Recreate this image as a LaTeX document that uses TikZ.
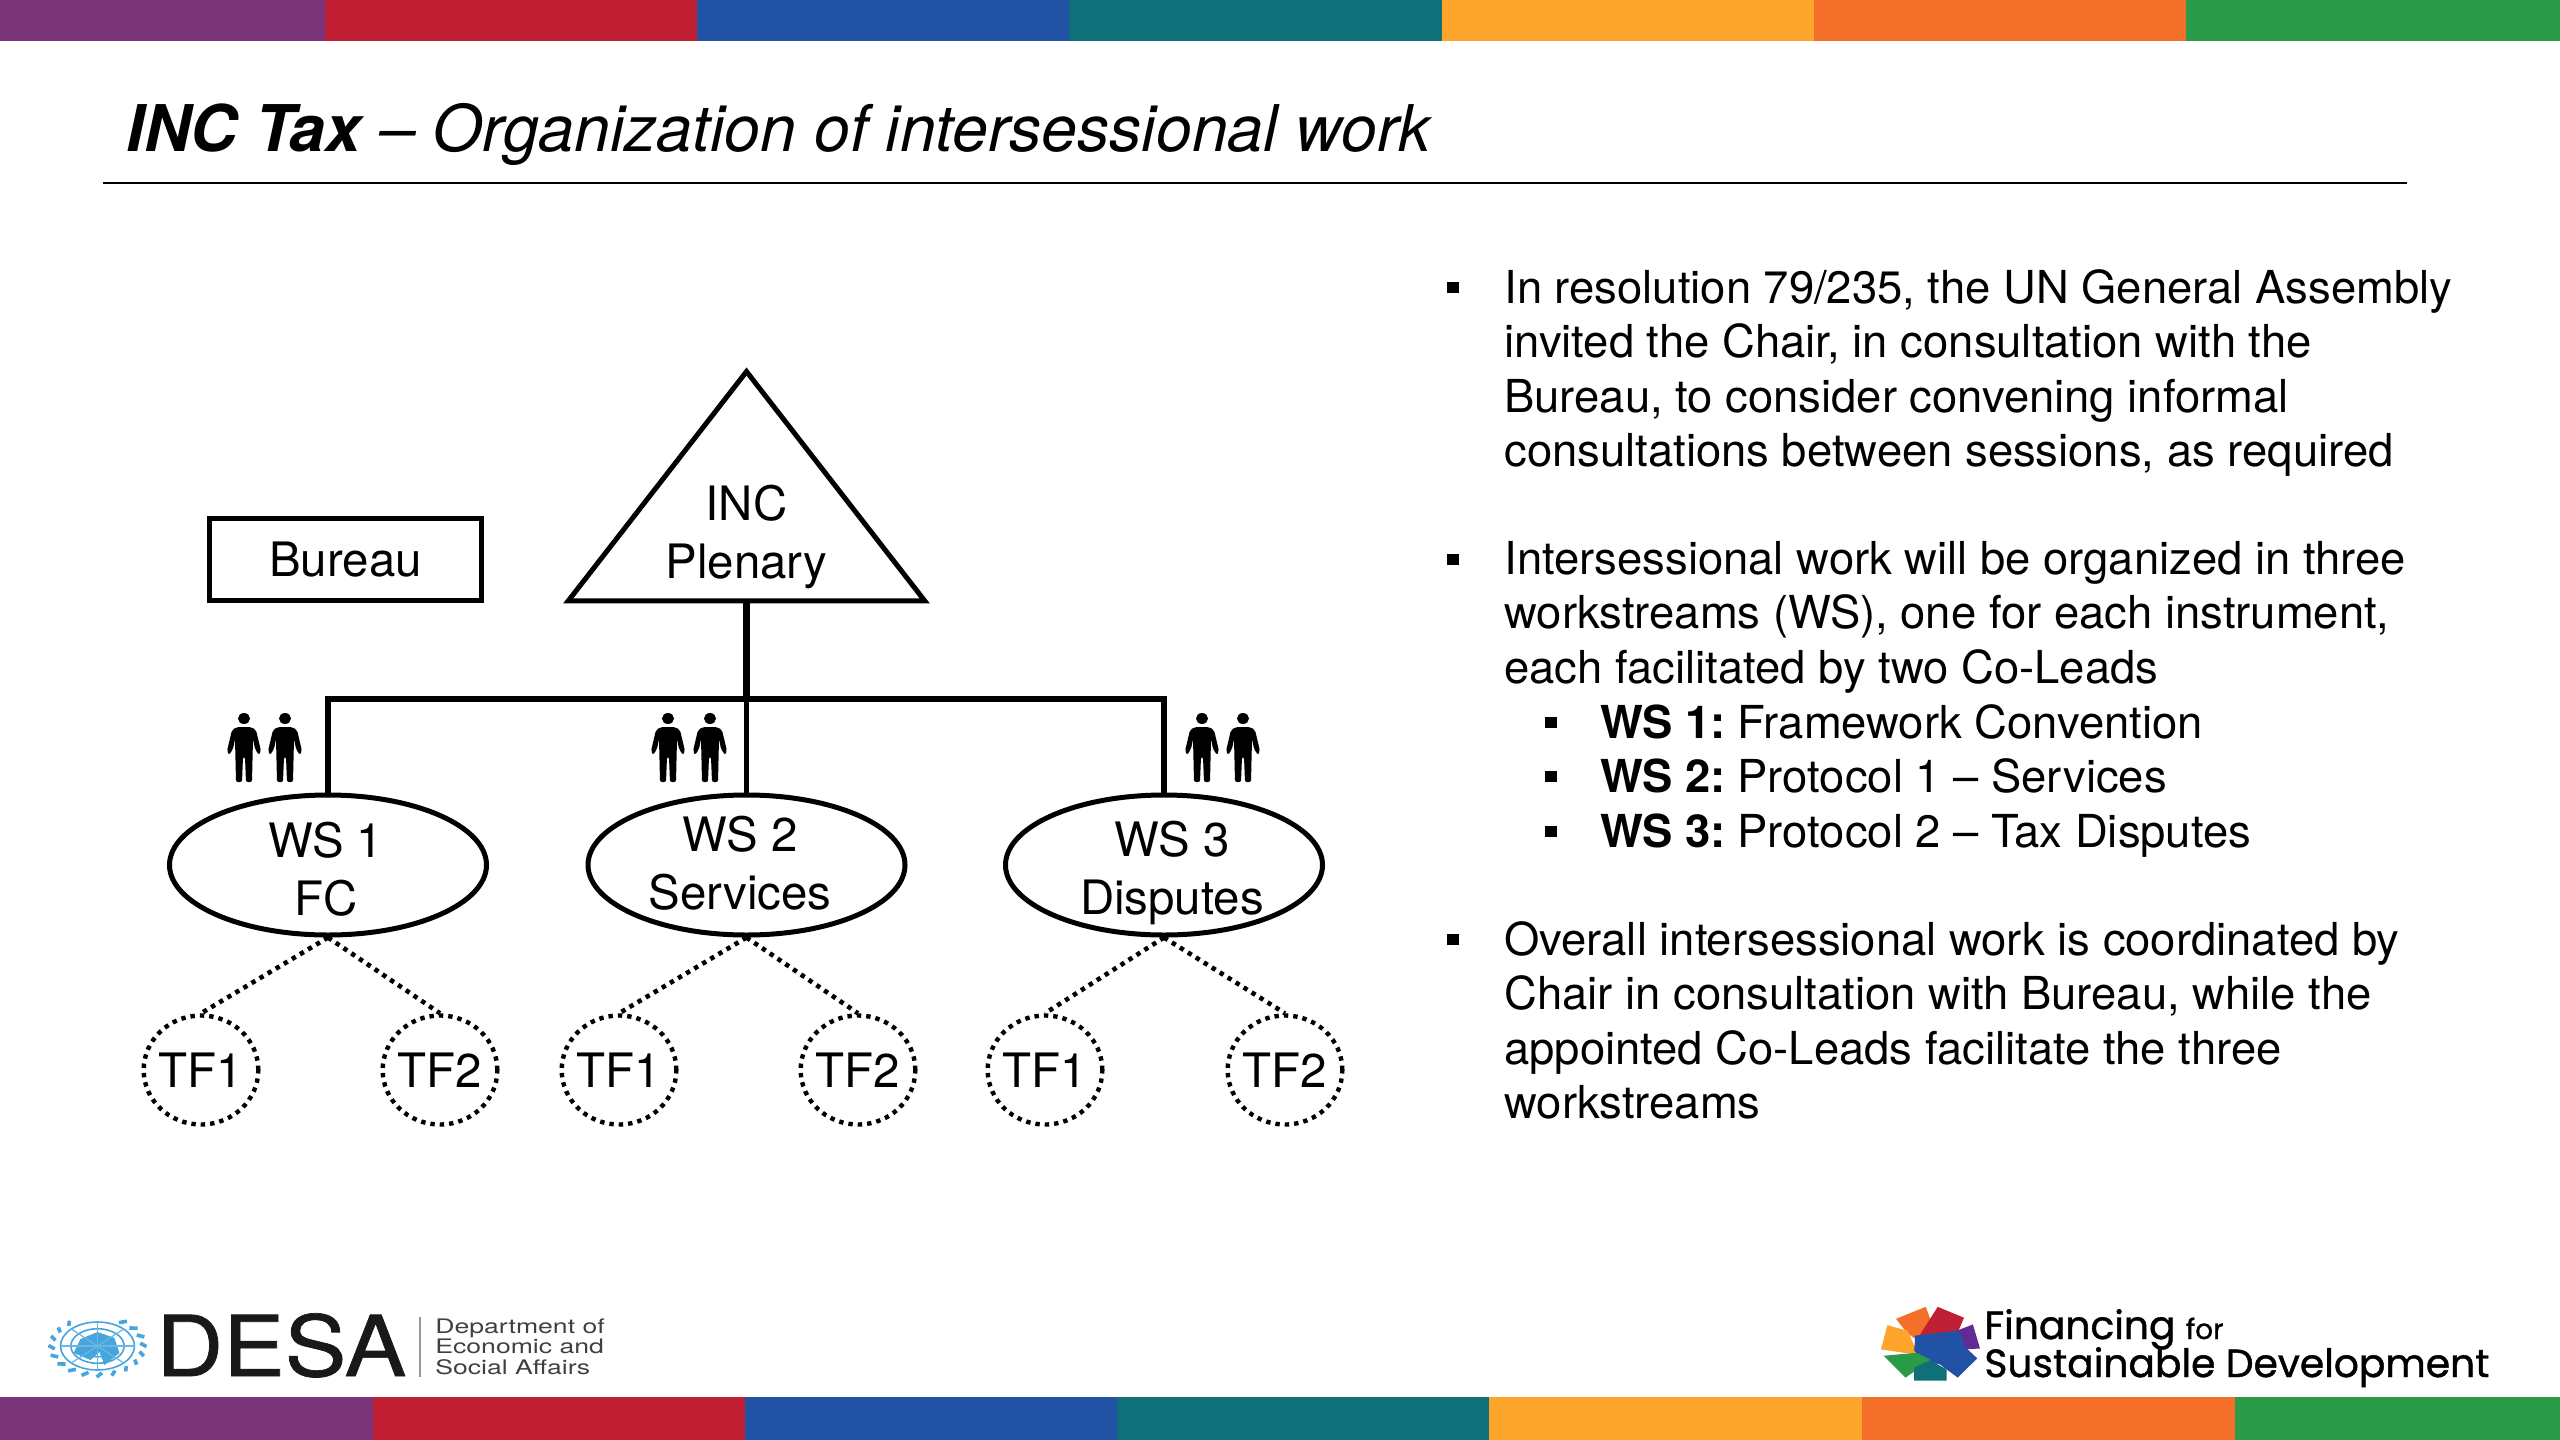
\documentclass[tikz,border=0pt]{standalone}
\usepackage{fontspec}
\setmainfont{TeX Gyre Heros}
\newfontface\logofont[FakeBold=1.1]{Poppins}
\newfontface\desafont[FakeBold=0.8]{TeX Gyre Heros}
\usetikzlibrary{shapes.geometric,calc}
\definecolor{barpurple}{HTML}{7B3578}
\definecolor{barred}{HTML}{C11F33}
\definecolor{barblue}{HTML}{2152A5}
\definecolor{barteal}{HTML}{10707A}
\definecolor{baryellow}{HTML}{FCA42B}
\definecolor{barorange}{HTML}{F4702A}
\definecolor{bargreen}{HTML}{2B9B4A}
\definecolor{unblue}{HTML}{45A5DC}

\begin{document}
\begin{tikzpicture}[
  x=0.5pt, y=-0.5pt,
  diagramfont/.style={font=\fontsize{23.7pt}{29pt}\selectfont},
  bodyfont/.style={font=\fontsize{22.7pt}{27.2pt}\selectfont},
  orgbox/.style={draw=black, line width=2.5pt, inner sep=0pt, align=center, diagramfont},
  plenarybox/.style={orgbox, isosceles triangle, isosceles triangle stretches,
                     shape border rotate=90, minimum height=114.7pt, minimum width=178.3pt},
  bureaubox/.style={orgbox, rectangle, minimum width=136pt, minimum height=41pt},
  wsoval/.style={orgbox, ellipse, minimum width=158.5pt, minimum height=70pt},
  wstext/.style={inner sep=0pt, align=center, diagramfont},
  tfoval/.style={draw=black, line width=2.2pt, dash pattern=on 2.2pt off 2.5pt, ellipse,
                 inner ysep=0pt, inner xsep=-0.8pt, minimum width=55pt, minimum height=54.5pt, diagramfont},
  busline/.style={line width=2.6pt, draw=black},
  trunkline/.style={line width=3.4pt, draw=black},
  tfline/.style={line width=2.3pt, draw=black, dash pattern=on 2.2pt off 2.5pt},
  para/.style={anchor=north west, inner sep=0pt, align=left, bodyfont},
  subpara/.style={anchor=base west, inner sep=0pt, bodyfont},
  bulletmark/.style={fill=black, inner sep=0pt, minimum width=6pt, minimum height=5.5pt},
  person/.pic={
    \fill (0,5.5) ellipse (6 and 5.5);
    \fill[rounded corners=1pt] (-7,14) -- (7,14) -- (12,17) -- (17,38) -- (15,42) -- (11,36)
      -- (9,26) -- (8,69) -- (2,69) -- (1,44) -- (-1,44) -- (-2,69) -- (-8,69) -- (-9,26)
      -- (-11,36) -- (-15,42) -- (-17,38) -- (-12,17) -- cycle;
  }
]
\useasboundingbox (0,0) rectangle (2560,1440);

% ===== colour bars =====
\foreach \xa/\xb/\barcol in {0/325/barpurple,325/697/barred,697/1069/barblue,1069/1442/barteal,
    1442/1814/baryellow,1814/2186/barorange,2186/2560/bargreen}
  \fill[\barcol] (\xa,0) rectangle (\xb,41);
\foreach \xa/\xb/\barcol in {0/373/barpurple,373/745/barred,745/1117/barblue,1117/1489/barteal,
    1489/1862/baryellow,1862/2235/barorange,2235/2560/bargreen}
  \fill[\barcol] (\xa,1397) rectangle (\xb,1440);

% ===== title =====
\node[anchor=base west, inner sep=0pt, font=\fontsize{32.2pt}{40pt}\selectfont\itshape] (title) at (126,151)
  {\textbf{INC Tax} -- Organization of intersessional work};
\draw[line width=1pt] (103,183) -- (2407,183);

% ===== organization chart =====
\node[plenarybox, anchor=apex] (plenary) at (746.5,365) {};
\node[wstext] (plenarytext) at (746.5,537) {INC\\Plenary};
\node[bureaubox] (bureau) at (345.5,559.5) {Bureau};

\node[wsoval] (ws1) at (328,865) {};
\node[wsoval] (ws2) at (746.5,865) {};
\node[wsoval] (ws3) at (1164,865) {};
\node[wstext] (ws1text) at (326,869) {WS 1\\FC};
\node[wstext] (ws2text) at (740,863) {WS 2\\Services};
\node[wstext] (ws3text) at (1172,872.5) {WS 3\\Disputes};

\coordinate (bus) at (746.5,699);
\draw[trunkline] (plenary.lower side) -- (bus);
\draw[busline] (bus) -- (ws2.north);
\draw[busline] (ws1.north) |- (bus);
\draw[busline] (ws3.north) |- (bus);

\node[tfoval] (tf1a) at (201,1070) {TF1};
\node[tfoval] (tf1b) at (440,1070) {TF2};
\node[tfoval] (tf2a) at (619,1070) {TF1};
\node[tfoval] (tf2b) at (858,1070) {TF2};
\node[tfoval] (tf3a) at (1045,1070) {TF1};
\node[tfoval] (tf3b) at (1285,1070) {TF2};

\foreach \wsname/\tfa/\tfb in {ws1/tf1a/tf1b,ws2/tf2a/tf2b,ws3/tf3a/tf3b} {
  \draw[tfline] (\wsname.south) -- (\tfa.north);
  \draw[tfline] (\wsname.south) -- (\tfb.north);
}

% co-leads
\foreach \px in {244,285,668,710,1202,1243}
  \pic at (\px,713) {person};

% ===== text column =====
\node[para] (para1) at (1504,269) {In resolution 79/235, the UN General Assembly\\
  invited the Chair, in consultation with the\\
  Bureau, to consider convening informal\\
  consultations between sessions, as required};
\node[para] (para2) at (1504,541) {Intersessional work will be organized in three\\
  workstreams (WS), one for each instrument,\\
  each facilitated by two Co-Leads};
\node[subpara] (sub1) at (1600,738) {\textbf{WS 1:}\hspace{5.8pt}Framework Convention};
\node[subpara] (sub2) at (1600,792) {\textbf{WS 2:}\hspace{5.8pt}Protocol 1 -- Services};
\node[subpara] (sub3) at (1600,847) {\textbf{WS 3:}\hspace{5.8pt}Protocol 2 -- Tax Disputes};
\node[para] (para3) at (1504,921) {Overall intersessional work is coordinated by\\
  Chair in consultation with Bureau, while the\\
  appointed Co-Leads facilitate the three\\
  workstreams};

\foreach \by in {287,559,939}
  \node[bulletmark] at (1453,\by) {};
\foreach \by in {722,776,831}
  \node[bulletmark] at (1551,\by) {};

% ===== DESA logo =====
\begin{scope}[shift={(97.5,1346)}]
  \foreach \rr in {1,0.72,0.45}
    \draw[unblue, line width=0.8pt] (0,0) ellipse ({37*\rr} and {24*\rr});
  \fill[unblue] (-17,-7) -- (0,-14) -- (17,-8) -- (22,7) -- (7,19) -- (2,6) -- (-7,14) -- (-24,7) -- cycle;
  \foreach \ang in {0,45,...,315}
    \draw[unblue!80, line width=0.6pt] (0,0) -- ({37*cos(\ang)},{24*sin(\ang)});
  \foreach \ang in {-60,-42,...,240}
    \draw[unblue, line width=1.8pt] ({43*cos(\ang)},{27*sin(\ang)}) -- ({49*cos(\ang+7)},{31*sin(\ang+7)});
\end{scope}
\node[anchor=base west, inner sep=0pt, text=black!90, font=\desafont\fontsize{42pt}{42pt}\selectfont] (desa) at (156,1376)
  {\scalebox{1.1}[1]{DESA}};
\draw[black!40, line width=1pt] (420,1317) -- (420,1377);
\node[anchor=base west, inner sep=0pt, text=black!75, align=left,
      font=\fontsize{10pt}{10.25pt}\selectfont] (desasub) at (435,1374)
  {\scalebox{1.33}[1]{Department of}\\\scalebox{1.33}[1]{Economic and}\\\scalebox{1.33}[1]{Social Affairs}};

% ===== FfD logo =====
\begin{scope}[shift={(1800,1260)}, x=0.2424pt, y=-0.1667pt, line width=1.2pt]
  \filldraw[barorange] (202,178) -- (258,145) -- (268,185) -- (240,235) -- (222,215) -- cycle;
  \filldraw[barred] (285,145) -- (335,175) -- (325,210) -- (250,225) -- cycle;
  \filldraw[barpurple!80!blue] (325,215) -- (355,198) -- (368,262) -- (335,265) -- cycle;
  \filldraw[baryellow] (182,200) -- (220,215) -- (240,280) -- (170,265) -- cycle;
  \filldraw[barblue] (240,230) -- (325,215) -- (340,265) -- (362,295) -- (325,348) -- (290,310)
    -- (255,300) -- (238,270) -- cycle;
  \filldraw[bargreen] (178,290) -- (240,282) -- (265,300) -- (218,348) -- cycle;
  \filldraw[barteal] (238,358) -- (238,325) -- (268,305) -- (300,330) -- (300,358) -- cycle;
\end{scope}
\node[anchor=base west, inner sep=0pt, font=\logofont\fontsize{19.6pt}{19.6pt}\selectfont] (ffd1) at (1984,1339)
  {Financing \fontsize{14pt}{14pt}\selectfont for};
\node[anchor=base west, inner sep=0pt, font=\logofont\fontsize{19.6pt}{19.6pt}\selectfont] (ffd2) at (1984,1377)
  {Sustainable Development};
\end{tikzpicture}
\end{document}
